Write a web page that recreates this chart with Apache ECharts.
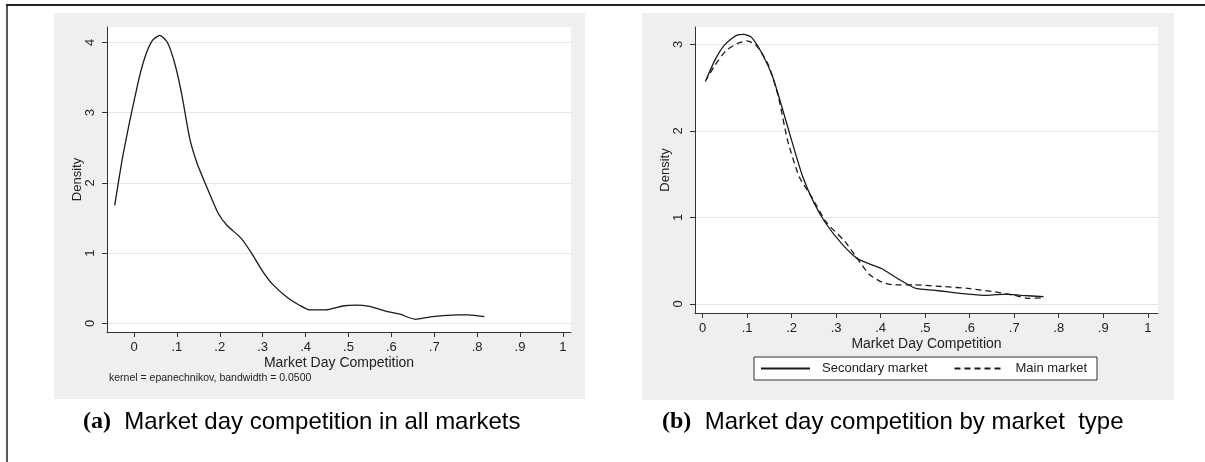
<!DOCTYPE html>
<html>
<head>
<meta charset="utf-8">
<script src="https://cdn.jsdelivr.net/npm/echarts@6/dist/echarts.min.js"></script>
<style>
  html, body { margin: 0; padding: 0; background: #ffffff; }
  #chart { width: 1205px; height: 462px; }
</style>
</head>
<body>
<div id="chart"></div>
<script>
// Tick positions shared by both panels
const xTicks = [0, 0.1, 0.2, 0.3, 0.4, 0.5, 0.6, 0.7, 0.8, 0.9, 1];
const yTicksAll = [0, 1, 2, 3, 4];
const yTicksByType = [0, 1, 2, 3];

// Kernel density of market day competition, all markets: [competition, density]
const allMarkets = [
  [-0.045, 1.68], [-0.025, 2.42], [0.008, 3.39], [0.026, 3.80], [0.043, 4.03],
  [0.060, 4.10], [0.078, 4.00], [0.095, 3.70], [0.111, 3.27], [0.130, 2.63],
  [0.147, 2.28], [0.169, 1.95], [0.196, 1.57], [0.216, 1.40], [0.250, 1.21],
  [0.274, 1.00], [0.300, 0.74], [0.324, 0.55], [0.359, 0.36], [0.385, 0.26],
  [0.410, 0.19], [0.446, 0.19], [0.490, 0.25], [0.518, 0.26], [0.549, 0.24],
  [0.589, 0.17], [0.620, 0.13], [0.656, 0.057], [0.696, 0.095], [0.754, 0.12],
  [0.780, 0.12], [0.817, 0.095]
];

// Density by market type: secondary markets
const secondaryMarket = [
  [0.008, 2.59], [0.028, 2.82], [0.049, 2.99], [0.075, 3.10], [0.092, 3.115],
  [0.110, 3.08], [0.135, 2.88], [0.157, 2.63], [0.178, 2.28], [0.200, 1.89],
  [0.225, 1.47], [0.251, 1.16], [0.277, 0.93], [0.312, 0.70], [0.346, 0.53],
  [0.372, 0.47], [0.402, 0.41], [0.441, 0.285], [0.479, 0.18], [0.518, 0.16],
  [0.552, 0.14], [0.596, 0.115], [0.639, 0.10], [0.682, 0.115], [0.716, 0.10],
  [0.766, 0.085]
];

// Density by market type: main markets
const mainMarket = [
  [0.006, 2.57], [0.028, 2.76], [0.053, 2.93], [0.079, 3.01], [0.100, 3.04],
  [0.122, 2.98], [0.148, 2.76], [0.170, 2.40], [0.191, 1.89], [0.217, 1.47],
  [0.247, 1.22], [0.277, 0.95], [0.320, 0.72], [0.355, 0.47], [0.376, 0.335],
  [0.406, 0.246], [0.432, 0.22], [0.475, 0.22], [0.544, 0.20], [0.596, 0.18],
  [0.656, 0.14], [0.700, 0.10], [0.733, 0.065], [0.766, 0.073]
];

const SANS = '"Liberation Sans", Arial, sans-serif';
const SERIF = '"Liberation Serif", "Times New Roman", serif';
const INK = '#1a1a1a';
const PANEL = '#efefef';

// Stata-style tick labels: 0, .1, .2, ..., 1
const fmtX = v => {
  if (Math.abs(v) < 1e-9) return '0';
  if (Math.abs(v - 1) < 1e-9) return '1';
  return '.' + Math.round(v * 10);
};

function xAxisFor(gridIndex, min, max) {
  return {
    gridIndex, type: 'value', min, max,
    axisLine: { show: true, onZero: false, lineStyle: { color: '#333', width: 1 } },
    axisTick: { show: true, customValues: xTicks, length: 5, lineStyle: { color: '#333' } },
    axisLabel: { customValues: xTicks, formatter: fmtX, margin: 9, fontSize: 13, color: '#222', fontFamily: SANS },
    splitLine: { show: false },
    name: 'Market Day Competition', nameLocation: 'middle', nameGap: 24, nameMoveOverlap: false,
    nameTextStyle: { fontSize: 14, color: '#222', fontFamily: SANS }
  };
}

function yAxisFor(gridIndex, min, max, ticks) {
  return {
    gridIndex, type: 'value', min, max,
    axisLine: { show: true, onZero: false, lineStyle: { color: '#333', width: 1 } },
    axisTick: { show: true, customValues: ticks, length: 5, lineStyle: { color: '#333' } },
    axisLabel: { customValues: ticks, rotate: 90, margin: 10, fontSize: 13, color: '#222', fontFamily: SANS },
    splitLine: { show: true, lineStyle: { color: '#e6e6e6', width: 1 } },
    name: 'Density', nameLocation: 'middle', nameGap: 23, nameRotate: 90, nameMoveOverlap: false,
    nameTextStyle: { fontSize: 13, color: '#222', fontFamily: SANS }
  };
}

function densityLine(name, data, axisIndex, dashed) {
  return {
    name, type: 'line', data,
    xAxisIndex: axisIndex, yAxisIndex: axisIndex,
    symbol: 'none', showSymbol: false, smooth: 0.2,
    lineStyle: { color: INK, width: 1.3, type: dashed ? [6, 4] : 'solid' },
    itemStyle: { color: INK },
    animation: false
  };
}

function caption(x, letter, text) {
  return {
    type: 'text', left: x, top: 410, z: 10,
    style: {
      text: '{b|(' + letter + ')}{t|  ' + text + '}',
      rich: {
        b: { fontFamily: SERIF, fontWeight: 'bold', fontSize: 24, fill: '#000' },
        t: { fontFamily: SANS, fontSize: 24, fill: '#000' }
      }
    }
  };
}

const chart = echarts.init(document.getElementById('chart'), null, { renderer: 'canvas' });

chart.setOption({
  animation: false,
  backgroundColor: '#ffffff',
  grid: [
    { left: 107, top: 27, width: 464, height: 305, show: true, backgroundColor: '#ffffff', borderWidth: 0 },
    { left: 695, top: 27, width: 463, height: 286, show: true, backgroundColor: '#ffffff', borderWidth: 0 }
  ],
  xAxis: [xAxisFor(0, -0.063, 1.019), xAxisFor(1, -0.017, 1.023)],
  yAxis: [yAxisFor(0, -0.124, 4.22, yTicksAll), yAxisFor(1, -0.104, 3.2, yTicksByType)],
  legend: {
    data: ['Secondary market', 'Main market'],
    left: 754, top: 357,
    itemWidth: 49, itemHeight: 10, itemGap: 26,
    itemStyle: { opacity: 0 },
    backgroundColor: '#ffffff', borderColor: '#333', borderWidth: 1, borderRadius: 0,
    padding: [5, 10, 5, 6],
    textStyle: { fontSize: 13, color: '#222', fontFamily: SANS, padding: [0, 0, 0, 7] }
  },
  series: [
    densityLine('All markets', allMarkets, 0, false),
    densityLine('Secondary market', secondaryMarket, 1, false),
    densityLine('Main market', mainMarket, 1, true)
  ],
  graphic: [
    // grey plot regions behind each panel
    { type: 'rect', z: -100, shape: { x: 54, y: 13, width: 531, height: 386 }, style: { fill: PANEL } },
    { type: 'rect', z: -100, shape: { x: 642, y: 13, width: 532, height: 387 }, style: { fill: PANEL } },
    // figure frame
    { type: 'line', z: 10, shape: { x1: 6, y1: 5, x2: 1205, y2: 5 }, style: { stroke: '#222', lineWidth: 2 } },
    { type: 'line', z: 10, shape: { x1: 7, y1: 5, x2: 7, y2: 462 }, style: { stroke: '#222', lineWidth: 1.5 } },
    // kernel note
    {
      type: 'text', left: 109, top: 373, z: 10,
      style: { text: 'kernel = epanechnikov, bandwidth = 0.0500', fontFamily: SANS, fontSize: 10.5, fill: '#222' }
    },
    caption(83, 'a', 'Market day competition in all markets'),
    caption(662, 'b', 'Market day competition by market  type')
  ]
});
</script>
</body>
</html>
